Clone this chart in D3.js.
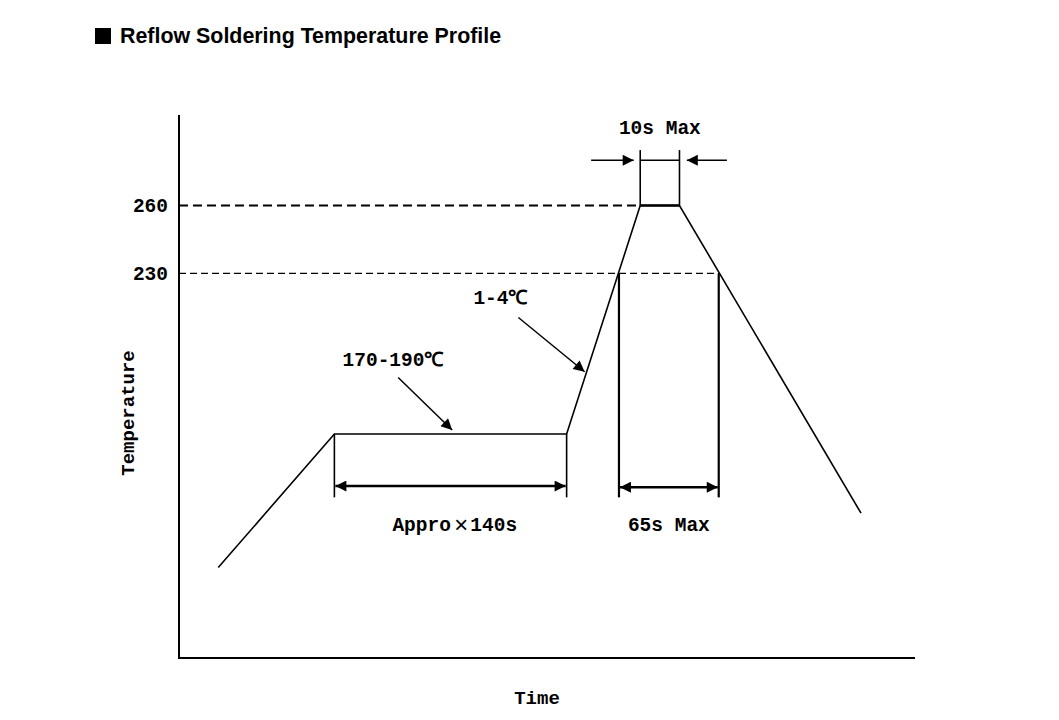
<!DOCTYPE html>
<html>
<head>
<meta charset="utf-8">
<script src="https://cdn.jsdelivr.net/npm/d3@7"></script>
<style>
  html, body { margin: 0; padding: 0; background: #fff; }
  svg { display: block; }
</style>
</head>
<body>
<svg id="chart" width="1059" height="720"></svg>
<script>
// ---- data (time in s, temperature in °C; schematic profile) ----
const profileTime = [24, 95, 237, 282, 306, 417];
const profileTemp = [100, 159, 159, 260, 260, 124];
const tickValues = [260, 230];
const tickLabels = ["260", "230"];
const refTimeEnd = [282, 330];          // where each dashed reference line stops
const refStyle = ["bold", "thin"];
const spanStart = [95, 269];            // dimension spans (Appro×140s, 65s Max)
const spanEnd = [237, 330];
const spanTemp = [136, 135.5];
const spanBottom = [131, 131];
const spanTop = [159, 230];
const spanLabelParts = [["Appro", "×", "140s"], ["65s Max"]];
const peakBoxTime = [282, 306];
const peakBoxTop = 284.5;
const peakArrowTemp = 280;
const peakArrowOuter = [252, 335];
const peakArrowInner = [278, 310.5];
const calloutLabels = ["170-190℃", "1-4℃"];
const calloutFromTime = [134, 207.5];
const calloutFromTemp = [184, 210.5];
const calloutToTime = [167, 248];
const calloutToTemp = [160.8, 186.5];
const calloutLabelTime = [100, 180];
const calloutLabelTemp = [189, 216.5];

const svg = d3.select("#chart");
const x = d3.scaleLinear().domain([0, 450]).range([179, 915]);
const y = d3.scaleLinear().domain([60, 300]).range([658, 115]);

const mono = "'Liberation Mono', 'DejaVu Sans Mono', monospace";

// arrow marker
const defs = svg.append("defs");
defs.append("marker")
  .attr("id", "arr").attr("viewBox", "0 0 10 10")
  .attr("refX", 10).attr("refY", 5)
  .attr("markerWidth", 13).attr("markerHeight", 11)
  .attr("markerUnits", "userSpaceOnUse")
  .attr("orient", "auto-start-reverse")
  .append("path").attr("d", "M0,0 L10,5 L0,10 Z").attr("fill", "#000");

// title
svg.append("rect").attr("x", 95).attr("y", 28).attr("width", 16).attr("height", 16).attr("fill", "#000");
svg.append("text").attr("x", 120).attr("y", 43)
  .attr("font-family", "'Liberation Sans', Arial, sans-serif")
  .attr("font-weight", "bold").attr("font-size", 21.4)
  .attr("fill", "#000")
  .text("Reflow Soldering Temperature Profile");

// axes
const yAxis = d3.axisLeft(y).tickValues(tickValues).tickSize(0).tickFormat((d, i) => tickLabels[i]);
const gy = svg.append("g").attr("transform", `translate(${x(0)},0)`).call(yAxis);
gy.select(".domain").attr("d", `M0,${y(300)}V${y(60)}`).attr("stroke", "#000").attr("stroke-width", 2);
gy.selectAll("text").attr("x", -11).attr("font-family", mono).attr("font-weight", "bold")
  .attr("font-size", 19.5).attr("fill", "#000");

const xAxis = d3.axisBottom(x).tickValues([]).tickSize(0);
const gx = svg.append("g").attr("transform", `translate(0,${y(60)})`).call(xAxis);
gx.select(".domain").attr("d", `M${x(0) - 1},0H${x(450)}`).attr("stroke", "#000").attr("stroke-width", 2);

// axis titles
svg.append("text").attr("transform", `translate(134,${413}) rotate(-90)`)
  .attr("text-anchor", "middle").attr("font-family", mono).attr("font-weight", "bold")
  .attr("font-size", 19).text("Temperature");
svg.append("text").attr("x", 537).attr("y", 704)
  .attr("text-anchor", "middle").attr("font-family", mono).attr("font-weight", "bold")
  .attr("font-size", 19).text("Time");

// reference dashed lines
tickValues.forEach((v, i) => {
  svg.append("line")
    .attr("x1", x(0)).attr("x2", x(refTimeEnd[i]))
    .attr("y1", y(v)).attr("y2", y(v))
    .attr("stroke", "#000")
    .attr("stroke-width", refStyle[i] === "bold" ? 2.2 : 1.3)
    .attr("stroke-dasharray", refStyle[i] === "bold" ? "9,5" : "7,4");
});

// profile
const profile = profileTime.map((t, i) => [t, profileTemp[i]]);
svg.append("path").datum(profile)
  .attr("d", d3.line().x(d => x(d[0])).y(d => y(d[1])))
  .attr("fill", "none").attr("stroke", "#000").attr("stroke-width", 1.6)
  .attr("stroke-linejoin", "miter");

// dimension spans
spanStart.forEach((s, i) => {
  [s, spanEnd[i]].forEach(t => {
    svg.append("line").attr("x1", x(t)).attr("x2", x(t))
      .attr("y1", y(spanTop[i])).attr("y2", y(spanBottom[i]))
      .attr("stroke", "#000").attr("stroke-width", i === 0 ? 1.6 : 2.2);
  });
  svg.append("line").attr("x1", x(s) + 1).attr("x2", x(spanEnd[i]) - 1)
    .attr("y1", y(spanTemp[i])).attr("y2", y(spanTemp[i]))
    .attr("stroke", "#000").attr("stroke-width", 2.4)
    .attr("marker-start", "url(#arr)").attr("marker-end", "url(#arr)");
  const parts = spanLabelParts[i];
  const t = svg.append("text").attr("y", 531)
    .attr("font-family", mono).attr("font-weight", "bold").attr("font-size", 19.5);
  if (parts.length === 1) {
    t.attr("x", (x(s) + x(spanEnd[i])) / 2).attr("text-anchor", "middle").text(parts[0]);
  } else {
    t.attr("x", x(s) + 58);
    t.append("tspan").text(parts[0]);
    t.append("tspan").attr("dx", 3).attr("dy", 1.5).attr("font-size", 24).attr("font-weight", "normal").text(parts[1]);
    t.append("tspan").attr("dx", 2).attr("dy", -1.5).text(parts[2]);
  }
});

// peak box (10s Max)
peakBoxTime.forEach(t => {
  svg.append("line").attr("x1", x(t)).attr("x2", x(t))
    .attr("y1", y(peakBoxTop)).attr("y2", y(260))
    .attr("stroke", "#000").attr("stroke-width", 1.6);
});
svg.append("line").attr("x1", x(peakBoxTime[0])).attr("x2", x(peakBoxTime[1]))
  .attr("y1", y(peakArrowTemp)).attr("y2", y(peakArrowTemp))
  .attr("stroke", "#000").attr("stroke-width", 1.4);
svg.append("line").attr("x1", x(peakBoxTime[0])).attr("x2", x(peakBoxTime[1]))
  .attr("y1", y(260)).attr("y2", y(260))
  .attr("stroke", "#000").attr("stroke-width", 2.4);
peakArrowOuter.forEach((t, i) => {
  svg.append("line").attr("x1", x(t)).attr("x2", x(peakArrowInner[i]))
    .attr("y1", y(peakArrowTemp)).attr("y2", y(peakArrowTemp))
    .attr("stroke", "#000").attr("stroke-width", 1.4)
    .attr("marker-end", "url(#arr)");
});
svg.append("text").attr("x", x((peakBoxTime[0] + peakBoxTime[1]) / 2)).attr("y", 134)
  .attr("text-anchor", "middle").attr("font-family", mono).attr("font-weight", "bold")
  .attr("font-size", 19.5).text("10s Max");

// callouts
calloutLabels.forEach((lab, i) => {
  svg.append("line")
    .attr("x1", x(calloutFromTime[i])).attr("y1", y(calloutFromTemp[i]))
    .attr("x2", x(calloutToTime[i])).attr("y2", y(calloutToTemp[i]))
    .attr("stroke", "#000").attr("stroke-width", 1.5)
    .attr("marker-end", "url(#arr)");
  svg.append("text").attr("x", x(calloutLabelTime[i])).attr("y", y(calloutLabelTemp[i]))
    .attr("font-family", mono).attr("font-weight", "bold")
    .attr("font-size", 19.5).text(lab);
});
</script>
</body>
</html>
